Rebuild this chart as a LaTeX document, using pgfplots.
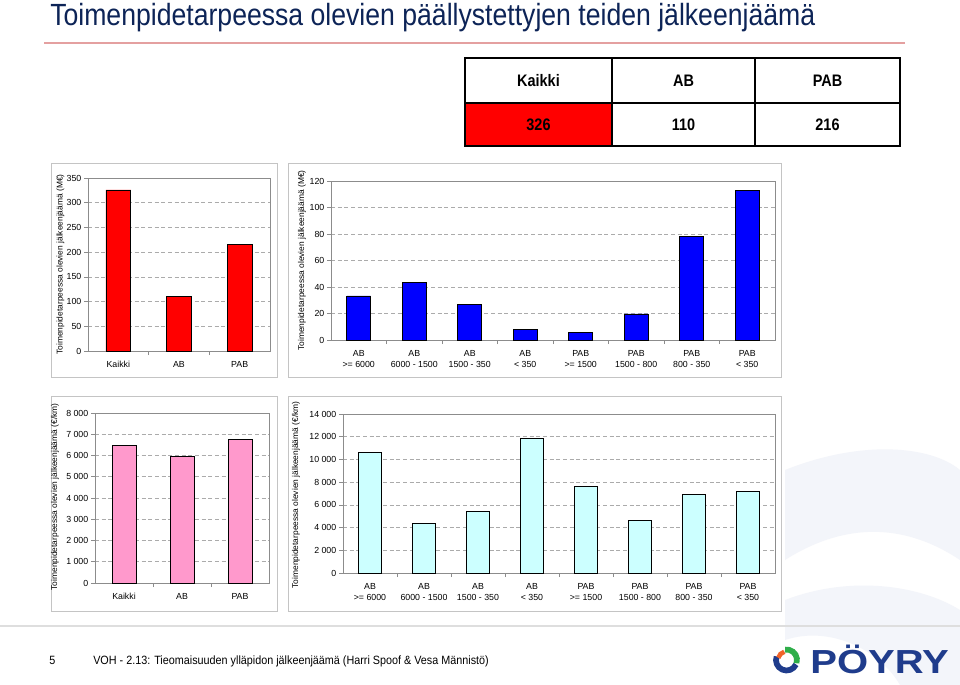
\documentclass[border=0pt]{standalone}
\usepackage{fontspec}
\setmainfont{Liberation Sans}
\newfontfamily\narrowfont[FakeStretch=0.868]{Liberation Sans}
\newfontfamily\footfont[FakeStretch=0.9]{Liberation Sans}
\usepackage{pgfplots}
\pgfplotsset{compat=1.18}

\definecolor{titleblue}{HTML}{0D2457}
\definecolor{gridgray}{HTML}{ABABAB}
\definecolor{framegray}{HTML}{C4C4C4}
\definecolor{axisgray}{HTML}{8C8C8C}
\definecolor{barred}{HTML}{FF0000}
\definecolor{barblue}{HTML}{0000FF}
\definecolor{barpink}{HTML}{FF99CC}
\definecolor{barcyan}{HTML}{CCFFFF}
\definecolor{logoblue}{HTML}{1F3C8C}
\definecolor{logoorange}{HTML}{F0642A}
\definecolor{logogreen}{HTML}{2FAE4A}
\definecolor{swoosh}{HTML}{F3F5FA}

\pgfplotsset{
  slidebar/.style={
    scale only axis,
    ybar,
    axis line style={draw=axisgray, line width=0.6pt},
    ymin=0,
    scaled y ticks=false,
    ymajorgrids,
    grid style={densely dashed, gridgray, line width=0.4pt},
    tick align=outside,
    tick pos=left,
    major x tick style={draw=none},
    major tick length=3pt,
    minor tick length=3pt,
    tick style={axisgray, line width=0.5pt},
    tick label style={font=\fontsize{6.6}{8}\selectfont, text=black},
    yticklabel style={/pgf/number format/assume math mode=true, xshift=1.5pt},
    xticklabel style={align=center, yshift=-1.5pt},
    every axis plot/.append style={draw=black, line width=0.5pt},
  },
  onelinex/.style={xticklabel style={text height=1.5ex, text depth=0.3ex, yshift=3.5pt}},
}

\begin{document}
\begin{tikzpicture}
\begin{scope}[x=0.75pt,y=-0.75pt]
\useasboundingbox[fill=white] (0,0) rectangle (960,685);

% faint background swoosh
\fill[swoosh] (785,470) .. controls (860,440) and (930,445) .. (960,470) -- (960,560) .. controls (900,520) and (840,525) .. (785,560) -- cycle;
\fill[swoosh] (785,600) .. controls (850,575) and (920,585) .. (960,610) -- (960,685) -- (900,685) .. controls (880,650) and (830,625) .. (785,640) -- cycle;

% title
\node[anchor=base west, inner sep=0, text=titleblue, font=\narrowfont\fontsize{23}{27}\selectfont] at (50,26) {Toimenpidetarpeessa olevien päällystettyjen teiden jälkeenjäämä};
\draw[color={rgb,255:red,228;green,160;blue,160}, line width=0.8pt] (44,43) -- (905,43);

% table
\fill[barred] (465,103) rectangle (612,146);
\draw[black, line width=1.6pt] (465,58) rectangle (900,146);
\draw[black, line width=1.2pt] (465,103) -- (900,103);
\draw[black, line width=1.2pt] (612,58) -- (612,146);
\draw[black, line width=1.2pt] (755,58) -- (755,146);
\begin{scope}[every node/.style={font=\narrowfont\bfseries\fontsize{12.5}{14}\selectfont, inner sep=0}]
\node at (538.5,81) {Kaikki};
\node at (683.5,81) {AB};
\node at (827.5,81) {PAB};
\node at (538.5,125) {326};
\node at (683.5,125) {110};
\node at (827.5,125) {216};
\end{scope}

% chart frames
\draw[framegray, line width=0.7pt] (51,163) rectangle (277,377);
\draw[framegray, line width=0.7pt] (288,163) rectangle (781,377);
\draw[framegray, line width=0.7pt] (51,396) rectangle (277,611);
\draw[framegray, line width=0.7pt] (288,396) rectangle (781,611);

% y labels
\node[rotate=90, font=\fontsize{6.3}{7}\selectfont] at (60.5,264.5) {Toimenpidetarpeessa olevien jälkeenjäämä (M€)};
\node[rotate=90, font=\fontsize{6.3}{7}\selectfont] at (302,260.5) {Toimenpidetarpeessa olevien jälkeenjäämä (M€)};
\node[rotate=90, font=\fontsize{6.3}{7}\selectfont] at (55,497) {Toimenpidetarpeessa olevien jälkeenjäämä (€/km)};
\node[rotate=90, font=\fontsize{6.3}{7}\selectfont] at (296,495) {Toimenpidetarpeessa olevien jälkeenjäämä (€/km)};

% footer
\draw[color={rgb,255:red,222;green,222;blue,222}, line width=1.2pt] (0,626) -- (960,626);
\node[anchor=base west, inner sep=0, font=\footfont\fontsize{9}{10}\selectfont] at (49,664) {5};
\node[anchor=base west, inner sep=0, font=\footfont\fontsize{9}{10}\selectfont] at (93,664) {VOH - 2.13: Tieomaisuuden ylläpidon jälkeenjäämä (Harri Spoof \& Vesa Männistö)};

% logo
\draw[logoblue, line width=4.3pt] (786.5,660) ++(25:10.5) arc[start angle=25, end angle=200, radius=10.5];
\draw[logoorange, line width=3.4pt] (786.5,660) ++(195:8.5) arc[start angle=195, end angle=255, radius=8.5];
\draw[logogreen, line width=4.3pt] (786.5,660) ++(262:10.5) arc[start angle=262, end angle=378, radius=10.5];
\node[anchor=base west, inner sep=0, text=logoblue, font=\bfseries\fontsize{25}{28}\selectfont, xscale=1.2] at (810,673) {PÖYRY};
\end{scope}

% ---------- top left ----------
\begin{axis}[slidebar, onelinex, at={(66pt,-263.25pt)}, anchor=south west,
  width=136.5pt, height=129.75pt,
  xmin=-0.5, xmax=2.5, ymax=350,
  ytick={0,50,...,350},
  xtick={0,1,2}, xticklabels={Kaikki,AB,PAB},
  minor xtick={0.5,1.5},
  bar width=0.41]
\addplot[fill=barred] coordinates {(0,326) (1,110) (2,216)};
\end{axis}

% ---------- top right ----------
\begin{axis}[slidebar, at={(248.25pt,-255pt)}, anchor=south west,
  width=333pt, height=119.25pt,
  xmin=-0.5, xmax=7.5, ymax=120,
  ytick={0,20,...,120},
  xtick={0,...,7},
  xticklabels={{AB\\>= 6000},{AB\\6000 - 1500},{AB\\1500 - 350},{AB\\< 350},{PAB\\>= 1500},{PAB\\1500 - 800},{PAB\\800 - 350},{PAB\\< 350}},
  minor xtick={0.5,1.5,...,6.5},
  bar width=0.43]
\addplot[fill=barblue] coordinates {(0,33.3) (1,43.2) (2,27) (3,8.2) (4,6) (5,19.7) (6,78) (7,113)};
\end{axis}

% ---------- bottom left ----------
\begin{axis}[slidebar, onelinex, at={(71.25pt,-437.25pt)}, anchor=south west,
  width=130.5pt, height=127.5pt,
  xmin=-0.5, xmax=2.5, ymax=8000,
  ytick={0,1000,...,8000},
  yticklabels={0,1 000,2 000,3 000,4 000,5 000,6 000,7 000,8 000},
  xtick={0,1,2}, xticklabels={Kaikki,AB,PAB},
  minor xtick={0.5,1.5},
  bar width=0.41]
\addplot[fill=barpink] coordinates {(0,6480) (1,5960) (2,6760)};
\end{axis}

% ---------- bottom right ----------
\begin{axis}[slidebar, at={(257.25pt,-429.75pt)}, anchor=south west,
  width=324pt, height=119.25pt,
  xmin=-0.5, xmax=7.5, ymax=14000,
  ytick={0,2000,...,14000},
  yticklabels={0,2 000,4 000,6 000,8 000,10 000,12 000,14 000},
  xtick={0,...,7},
  xticklabels={{AB\\>= 6000},{AB\\6000 - 1500},{AB\\1500 - 350},{AB\\< 350},{PAB\\>= 1500},{PAB\\1500 - 800},{PAB\\800 - 350},{PAB\\< 350}},
  minor xtick={0.5,1.5,...,6.5},
  bar width=0.43]
\addplot[fill=barcyan] coordinates {(0,10640) (1,4360) (2,5400) (3,11820) (4,7640) (5,4600) (6,6930) (7,7160)};
\end{axis}
\end{tikzpicture}
\end{document}
